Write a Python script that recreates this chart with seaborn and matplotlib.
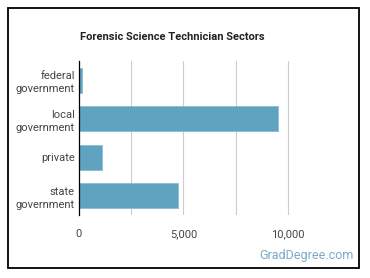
import matplotlib
matplotlib.use("Agg")
import matplotlib.pyplot as plt
import seaborn as sns
import pandas as pd
from matplotlib.patches import Rectangle
from matplotlib.ticker import FuncFormatter

sectors = ["federal\ngovernment", "local\ngovernment", "private", "state\ngovernment"]
workers = [160, 9540, 1110, 4750]
ticks = [0, 5000, 10000]

df = pd.DataFrame({"sector": sectors, "workers": workers})

sns.set_theme(style="white")
plt.rcParams["font.family"] = ["Roboto", "DejaVu Sans"]

fig = plt.figure(figsize=(3.7, 2.78), dpi=100)
ax = fig.add_axes([79 / 370, 63 / 278, 261 / 370, 154 / 278])

sns.barplot(data=df, x="workers", y="sector", orient="h", color="#5fa3c0",
            saturation=1, width=0.65, edgecolor="#8cbdd2", linewidth=0.6, ax=ax)

ax.set_xlim(0, 12500)
ax.set_ylim(3.5, -0.5)
ax.set_xticks(ticks)
ax.set_xticks([2500, 7500], minor=True)
ax.xaxis.set_major_formatter(FuncFormatter(lambda v, p: f"{int(v):,}"))
ax.grid(axis="x", which="both", color="#cccccc", linewidth=0.8)
ax.set_axisbelow(True)
for s in ["top", "right", "bottom"]:
    ax.spines[s].set_visible(False)
ax.spines["left"].set_color("black")
ax.spines["left"].set_linewidth(0.9)
ax.tick_params(axis="both", which="both", length=0, labelsize=8, colors="#444444", pad=3)
ax.tick_params(axis="x", pad=10)
ax.set_xlabel("")
ax.set_ylabel("")
ax.set_yticks(range(len(sectors)))
ax.set_yticklabels(sectors, ha="right", multialignment="right", linespacing=1.4)

fig.text(172 / 370, 1 - 37 / 278, "Forensic Science Technician Sectors", ha="center", va="center",
         fontsize=8, fontweight="bold", color="#222222")
fig.text(354 / 370, 1 - 256 / 278, "GradDegree.com", ha="right", va="center",
         fontsize=9, color="#7aaac8")

fig.patches.append(Rectangle((8 / 370, 1 - 268 / 278), 351 / 370, 260 / 278,
                             transform=fig.transFigure, fill=False, edgecolor="black",
                             linewidth=1.3))

fig.savefig("out.png", dpi=100)
